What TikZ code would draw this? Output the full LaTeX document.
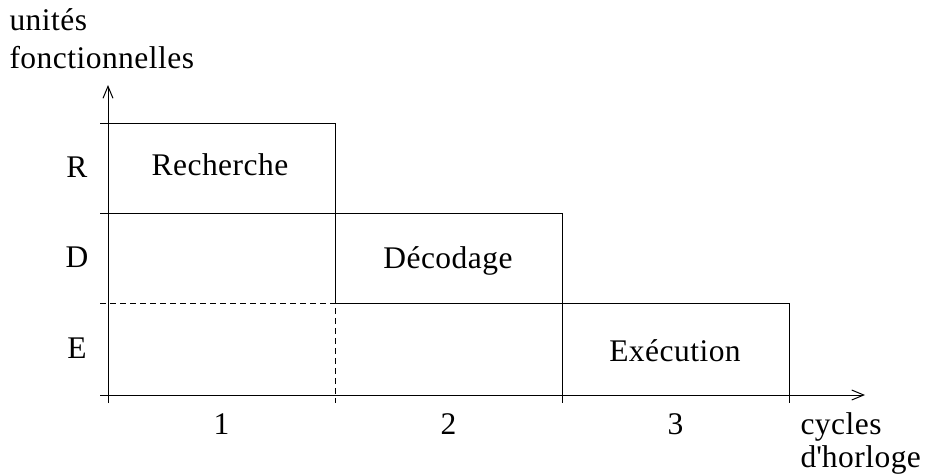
\documentclass[tikz,border=0pt]{standalone}
\usepackage{fontspec}
\setmainfont{Liberation Serif}[LetterSpace=1.5]
\usetikzlibrary{arrows.meta}
\tikzset{axis/.style={-{Straight Barb[length=12pt, width=10pt]}}}
\tikzset{hidden/.style={dash pattern=on 6pt off 4pt}}
\tikzset{lab/.style={anchor=base, inner sep=0pt}}

\begin{document}
\begin{tikzpicture}[x=1pt, y=-1pt, line width=1pt, font=\fontsize{31.5}{37}\selectfont]
    \useasboundingbox (0,0) rectangle (930,475);
    % axes
    \coordinate (origin) at (108,395);
    \draw[axis] (108,403) -- (108,85) coordinate (ytop);
    \draw[axis] (100,395) -- (865,395) coordinate (xend);
    % one box per phase, each one cycle later
    \draw (100,123) -- (335,123) -- (335,303);
    \draw (100,213) -- (562,213) -- (562,403);
    \draw (335,303) -- (789,303) -- (789,403);
    \draw[hidden] (100,303) -- (335,303) -- (335,403);
    % units and cycles
    \foreach \u/\y in {R/177, D/267, E/358} {
        \node[lab] (unit\u) at (77,\y) {\u};
    }
    \foreach \c/\x in {1/221.5, 2/448.5, 3/675.5} {
        \node[lab] (cycle\c) at (\x,434) {\c};
    }
    \node[lab] (recherche) at (220,175) {Recherche};
    \node[lab] (decodage) at (448,268) {Décodage};
    \node[lab] (execution) at (675,361) {Exécution};
    % axis titles
    \node[lab, anchor=base west] (ytitle) at (9,30) {unités};
    \node[lab, anchor=base west] (ytitle2) at (9,68) {fonctionnelles};
    \node[lab, anchor=base west] (xtitle) at (800,434) {cycles};
    \node[lab, anchor=base west] (xtitle2) at (800,467) {d\textquotesingle horloge};
\end{tikzpicture}
\end{document}
